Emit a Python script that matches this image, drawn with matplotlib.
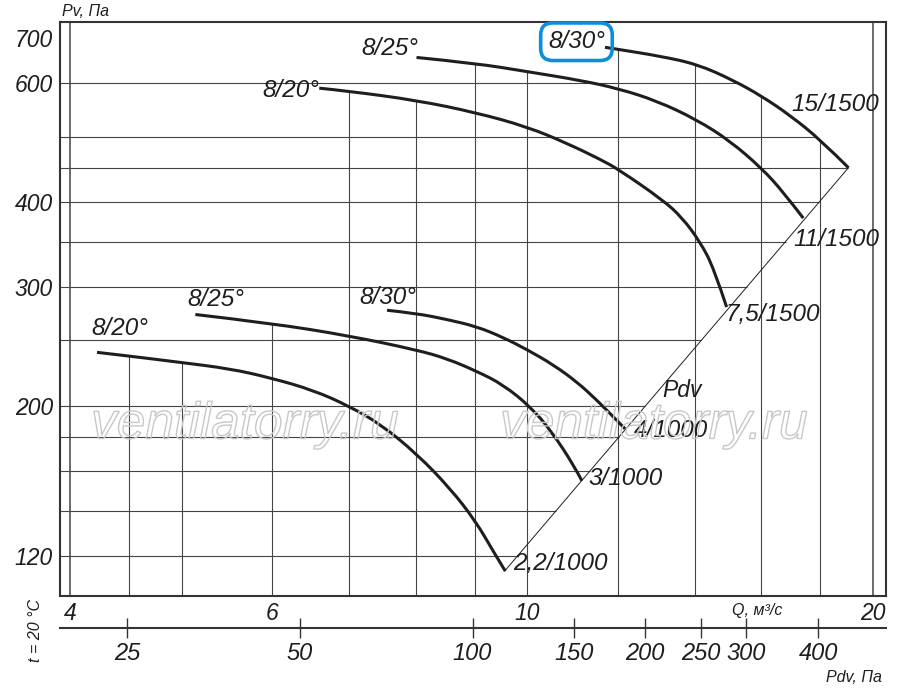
import numpy as np
import matplotlib
matplotlib.use('Agg')
import matplotlib.pyplot as plt
from matplotlib import patheffects as pe
from matplotlib.path import Path
from matplotlib.patches import PathPatch
from matplotlib.ticker import NullLocator, NullFormatter

# fan curves: Q, m3/s and Pv, Pa
q_2_2 = [4.22, 4.5, 4.98, 5.51, 5.98, 6.51, 6.99, 7.45, 8.01, 8.57, 9.02, 9.34, 9.57]
p_2_2 = [240, 237, 232, 227, 220, 211, 200, 188, 170, 151, 135, 122, 114]

q_3 = [5.14, 5.98, 6.99, 8.01, 8.51, 9.04, 9.53, 10.08, 10.51, 10.99, 11.16]
p_3 = [273, 265, 254, 242, 235, 225, 215, 199, 183, 163, 155]

q_4 = [7.55, 8.01, 8.51, 9.04, 9.53, 10.01, 10.54, 11.05, 11.5, 12.02, 12.17]
p_4 = [277, 274, 268.5, 262, 252.5, 242, 230, 217, 204, 189, 185]

q_7_5 = [6.59, 6.99, 8.01, 9.02, 10.01, 10.83, 11.58, 12.02, 13.13, 13.64, 14.14, 14.54, 14.92]
p_7_5 = [590, 584, 566, 543, 517, 489, 463, 447, 403, 380, 350, 320, 280]

q_11 = [8.01, 9.02, 10.01, 11.12, 12.01, 12.97, 14.05, 15.02, 16.01, 16.72, 17.40]
p_11 = [655, 642, 624, 606, 589, 565, 530, 493, 449, 414, 379]

q_15 = [11.69, 12.02, 13.05, 14.07, 15.12, 16.01, 16.94, 18.03, 19.05]
p_15 = [678, 673, 658, 640, 606, 574, 538, 494, 450]

curves_q = [q_2_2, q_3, q_4, q_7_5, q_11, q_15]
curves_p = [p_2_2, p_3, p_4, p_7_5, p_11, p_15]

angle_labels = ['8/20°', '8/25°', '8/30°', '8/20°', '8/25°', '8/30°']
power_labels = ['2,2/1000', '3/1000', '4/1000', '7,5/1500', '11/1500', '15/1500']

# Pdv line (through the curve end points)
pdv_line_q = [9.56, 19.05]
pdv_line_p = [114, 450]

# grid and ticks
grid_q = [4, 4.5, 5, 6, 7, 8, 9, 10, 12, 14, 16, 18, 20]
grid_p = [120, 140, 160, 180, 200, 250, 300, 350, 400, 450, 500, 600]
q_ticks = [4, 6, 10, 20]
p_ticks = [120, 200, 300, 400, 600, 700]
pdv_ticks = [25, 50, 100, 150, 200, 250, 300, 400]
PDV_K = 1.245  # Pdv = K * Q^2

# label positions (Q, P)
angle_pos = [(4.42, 260), (5.36, 287), (7.57, 289), (6.23, 586), (7.6, 676), (11.04, 691)]
power_pos = [(10.7, 117), (12.18, 156), (13.35, 184), (16.36, 273), (18.6, 353), (18.57, 558)]

FW, FH = 900, 690
FONT = 'Liberation Sans'
INK = '#1e1e1e'
GRID = '#444444'


def px(x, y):
    return x / FW, 1 - y / FH


def logi(x, xs, ys):
    return 10 ** np.interp(np.log10(x), np.log10(xs), np.log10(ys))


def smooth_path(q, p):
    # quadratic b-spline through the read points, built in log space
    lx, ly = np.log10(q), np.log10(p)
    verts = [(lx[0], ly[0])]
    codes = [Path.MOVETO]
    n = len(lx)
    for i in range(1, n - 1):
        if i < n - 2:
            end = ((lx[i] + lx[i + 1]) / 2, (ly[i] + ly[i + 1]) / 2)
        else:
            end = (lx[-1], ly[-1])
        verts += [(lx[i], ly[i]), end]
        codes += [Path.CURVE3, Path.CURVE3]
    return Path(10 ** np.array(verts), codes)


fig = plt.figure(figsize=(FW / 100, FH / 100), dpi=100)
ax = fig.add_axes([60 / FW, 1 - 596 / FH, 826 / FW, 574 / FH])
ax.set_xscale('log')
ax.set_yscale('log')
ax.set_xlim(3.918, 20.54)
ax.set_ylim(104.7, 739)

# vertical grid, cut off under the top curve
tops = []
for q in grid_q:
    hits = [logi(q, cq, cp) for cq, cp in zip(curves_q, curves_p) if cq[0] <= q <= cq[-1]]
    tops.append(max(hits) if hits else ax.get_ylim()[1])
for q, t in zip(grid_q, tops):
    lw = 1.1 if q in (4, 20) else 0.8
    ax.vlines(q, ax.get_ylim()[0], t, color=GRID, lw=lw, zorder=1)

# horizontal grid, cut off at the Pdv line / outer curve
for p in grid_p:
    if p <= pdv_line_p[-1]:
        right = logi(p, pdv_line_p, pdv_line_q)
    else:
        right = logi(p, p_15[::-1], q_15[::-1])
    ax.hlines(p, ax.get_xlim()[0], right, color=GRID, lw=0.8, zorder=1)

ax.plot(pdv_line_q, pdv_line_p, color=INK, lw=0.7, zorder=2)

for cq, cp in zip(curves_q, curves_p):
    ax.add_patch(PathPatch(smooth_path(cq, cp), fc='none', ec=INK, lw=2.2,
                           capstyle='butt', zorder=3))

tkw = dict(family=FONT, style='italic', color=INK, ha='center', va='center')
for i, (lab, (x, y)) in enumerate(zip(angle_labels, angle_pos)):
    if i == 5:
        ax.text(x, y, lab, fontsize=17.5, zorder=4,
                bbox=dict(boxstyle='round,pad=0.3,rounding_size=0.5', fc='none',
                          ec='#0a8fdc', lw=2.6), **tkw)
    else:
        ax.text(x, y, lab, fontsize=17.5, zorder=4, **tkw)
for lab, (x, y) in zip(power_labels, power_pos):
    ax.text(x, y, lab, fontsize=17.5, zorder=4, **tkw)
ax.text(13.64, 211, 'Pdv', fontsize=16.5, zorder=4, **tkw)

for s in ax.spines.values():
    s.set_linewidth(1.5)
    s.set_color('#333333')

for axis in (ax.xaxis, ax.yaxis):
    axis.set_minor_locator(NullLocator())
    axis.set_minor_formatter(NullFormatter())
ax.set_xticks(q_ticks)
ax.set_xticklabels([str(v) for v in q_ticks])
ax.set_yticks(p_ticks)
ax.set_yticklabels([str(v) for v in p_ticks])
ax.tick_params(axis='x', length=0, pad=4)
ax.tick_params(axis='y', length=0, pad=5)
for lab in ax.get_xticklabels() + ax.get_yticklabels():
    lab.set_family(FONT)
    lab.set_style('italic')
    lab.set_fontsize(16.5)
    lab.set_color(INK)

# Pdv scale under the chart
ax2 = fig.add_axes([60 / FW, 1 - 628 / FH, 826 / FW, 0.0001])
ax2.set_xscale('log')
ax2.set_xlim(ax.get_xlim())
ax2.set_yticks([])
for k in ('top', 'left', 'right'):
    ax2.spines[k].set_visible(False)
ax2.spines['bottom'].set_linewidth(1.5)
ax2.spines['bottom'].set_color('#333333')
ax2.xaxis.set_minor_locator(NullLocator())
ax2.xaxis.set_minor_formatter(NullFormatter())
ax2.set_xticks(np.sqrt(np.array(pdv_ticks) / PDV_K))
ax2.set_xticklabels([str(v) for v in pdv_ticks])
ax2.tick_params(axis='x', direction='inout', length=14, width=1, color='#333333', pad=3)
for lab in ax2.get_xticklabels():
    lab.set_family(FONT)
    lab.set_style('italic')
    lab.set_fontsize(17)
    lab.set_color(INK)

small = dict(family=FONT, style='italic', color=INK, fontsize=11.5)
fig.text(*px(62, 12), 'Pv, Па', ha='left', va='center', **small)
fig.text(*px(757, 611), 'Q, м³/с', ha='center', va='center', **small)
fig.text(*px(854, 678), 'Pdv, Па', ha='center', va='center', **small)
fig.text(*px(35, 630), 't = 20 °C', ha='center', va='center', rotation=90, **small)

# watermark
for wx in (245, 654):
    fig.text(*px(wx, 425), 'ventilatorry.ru', family=FONT, style='italic', fontsize=37,
             color=(1, 1, 1, 0), ha='center', va='center', zorder=5,
             path_effects=[pe.withStroke(linewidth=1.0, foreground='#c8c8c8')])

fig.savefig('out.png', dpi=100)
